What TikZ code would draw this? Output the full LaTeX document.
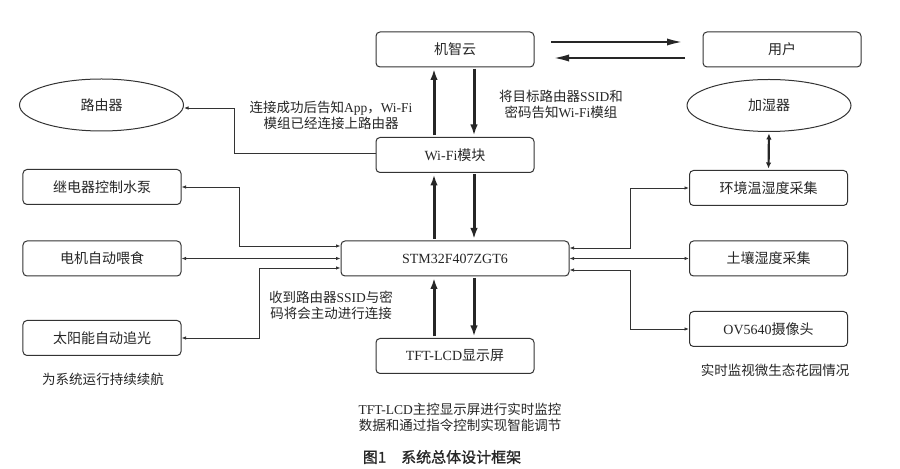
\documentclass[tikz,border=0pt]{standalone}
\usepackage{fontspec}
\setmainfont{Liberation Serif}
\newfontfamily\cjk{Noto Sans CJK SC}
\newfontfamily\cjkcap[FakeBold=1.2]{Noto Sans CJK SC}
\usetikzlibrary{arrows.meta,shapes.geometric}

\begin{document}
\begin{tikzpicture}[x=1bp,y=-1bp,
    box/.style={draw=black!80,line width=1bp,rounded corners=4bp,minimum width=158bp,minimum height=35bp,inner sep=0pt,text=black!85,font=\fontsize{14bp}{17bp}\selectfont},
    oval/.style={draw=black!80,line width=1bp,ellipse,minimum width=164bp,minimum height=52bp,inner sep=0pt,text=black!85,font=\fontsize{14bp}{17bp}\selectfont},
    note/.style={align=center,inner sep=0pt,text=black!85,font=\fontsize{13.5bp}{16bp}\selectfont},
    link/.style={draw=black!80,line width=0.9bp,>={Latex[length=4.5bp,width=3.5bp]}},
    bold/.style={draw=black!85,line width=3bp,shorten <=1.5bp,shorten >=1.5bp,>={Latex[length=11bp,width=7.5bp]}}]
			%%%%% START %%%%%
			\useasboundingbox[fill=white] (0,0) rectangle (900,469);
			
			\node[box] (cloud) at (455,49.5) {{\cjk 机智云}};
			\node[box] (user) at (782,49.5) {{\cjk 用户}};
			\node[box] (wifi) at (455,155) {Wi-Fi{\cjk 模块}};
			\node[box,minimum width=228bp] (stm) at (455,258.5) {STM32F407ZGT6};
			\node[box] (lcd) at (455,356) {TFT-LCD{\cjk 显示屏}};
			
			\node[oval] (router) at (101.5,105) {{\cjk 路由器}};
			\node[box] (relay) at (102,187) {{\cjk 继电器控制水泵}};
			\node[box] (motor) at (102,258.5) {{\cjk 电机自动喂食}};
			\node[box] (solar) at (102,338) {{\cjk 太阳能自动追光}};
			
			\node[oval] (humid) at (769,105.5) {{\cjk 加湿器}};
			\node[box] (env) at (768.5,188) {{\cjk 环境温湿度采集}};
			\node[box] (soil) at (768.5,258.5) {{\cjk 土壤湿度采集}};
			\node[box] (cam) at (768.5,329) {OV5640{\cjk 摄像头}};
			
			\node[note] (n1) at (331,115) {{\cjk 连接成功后告知}App{\cjk ，}Wi-Fi\\{\cjk 模组已经连接上路由器}};
			\node[note] (n2) at (561,104) {{\cjk 将目标路由器}SSID{\cjk 和}\\{\cjk 密码告知}Wi-Fi{\cjk 模组}};
			\node[note] (n3) at (331,305) {{\cjk 收到路由器}SSID{\cjk 与密}\\{\cjk 码将会主动进行连接}};
			\node[note] (n4) at (103,379) {{\cjk 为系统运行持续续航}};
			\node[note] (n5) at (775,370) {{\cjk 实时监视微生态花园情况}};
			\node[note] (n6) at (460,417) {TFT-LCD{\cjk 主控显示屏进行实时监控}\\{\cjk 数据和通过指令控制实现智能调节}};
			\node[note,font=\fontsize{15bp}{17bp}\cjkcap] (cap) at (442,457) {图1\quad 系统总体设计框架};
			
			% thin links
			\draw[link,->] ([yshift=2bp]wifi.west) -- ++(-141,0) |- ([yshift=-3bp]router.east);
			\draw[link,<->] (relay.east) -- ++(58,0) |- ([yshift=12.5bp]stm.west);
			\draw[link,<->] (motor.east) -- (stm.west);
			\draw[link,<->] (solar.east) -- ++(78,0) |- ([yshift=-9.5bp]stm.west);
			\draw[link,<->] (env.west) -- ++(-59,0) |- ([yshift=10.5bp]stm.east);
			\draw[link,<->] (stm.east) -- (soil.west);
			\draw[link,<->] (cam.west) -- ++(-59,0) |- ([yshift=-11.5bp]stm.east);
			
			% bold arrows
			\draw[bold,->] ([xshift=-21bp]wifi.north) -- ([xshift=-21bp]cloud.south);
			\draw[bold,->] ([xshift=19bp]cloud.south) -- ([xshift=19bp]wifi.north);
			\draw[bold,->] ([xshift=-21bp]stm.north) -- ([xshift=-21bp]wifi.south);
			\draw[bold,->] ([xshift=19bp]wifi.south) -- ([xshift=19bp]stm.north);
			\draw[bold,->] ([xshift=-21bp]lcd.north) -- ([xshift=-21bp]stm.south);
			\draw[bold,->] ([xshift=19bp]stm.south) -- ([xshift=19bp]lcd.north);
			\draw[bold,->,line width=2.7bp,>={Latex[length=18bp,width=7bp]}] ([xshift=15bp,yshift=7.5bp]cloud.east) -- ([xshift=-16bp,yshift=7.5bp]user.west);
			\draw[bold,->,line width=2.7bp,>={Latex[length=18bp,width=7bp]}] ([xshift=-16bp,yshift=-8.5bp]user.west) -- ([xshift=15bp,yshift=-8.5bp]cloud.east);
			\draw[bold,<->,line width=2.2bp,>={Latex[length=6bp,width=5.5bp]}] (humid.south) -- (env.north);
			%%%%% END %%%%%
		\end{tikzpicture}
\end{document}
